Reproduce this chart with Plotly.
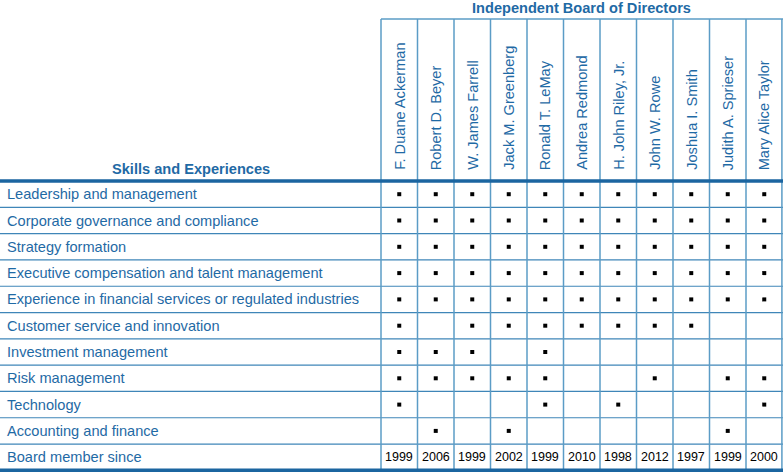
import plotly.graph_objects as go

directors = ["F. Duane Ackerman", "Robert D. Beyer", "W. James Farrell", "Jack M. Greenberg",
             "Ronald T. LeMay", "Andrea Redmond", "H. John Riley, Jr.", "John W. Rowe",
             "Joshua I. Smith", "Judith A. Sprieser", "Mary Alice Taylor"]
skills = ["Leadership and management", "Corporate governance and compliance", "Strategy formation",
          "Executive compensation and talent management",
          "Experience in financial services or regulated industries",
          "Customer service and innovation", "Investment management", "Risk management",
          "Technology", "Accounting and finance"]
# 1 = has skill; rows follow skills, columns follow directors
matrix = [
    [1, 1, 1, 1, 1, 1, 1, 1, 1, 1, 1],
    [1, 1, 1, 1, 1, 1, 1, 1, 1, 1, 1],
    [1, 1, 1, 1, 1, 1, 1, 1, 1, 1, 1],
    [1, 1, 1, 1, 1, 1, 1, 1, 1, 1, 1],
    [1, 1, 1, 1, 1, 1, 1, 1, 1, 1, 1],
    [1, 0, 1, 1, 1, 1, 1, 1, 1, 0, 0],
    [1, 1, 1, 0, 1, 0, 0, 0, 0, 0, 0],
    [1, 1, 1, 1, 1, 0, 0, 1, 0, 1, 1],
    [1, 0, 0, 0, 1, 0, 1, 0, 0, 0, 1],
    [0, 1, 0, 1, 0, 0, 0, 0, 0, 1, 0],
]
since_label = "Board member since"
since_years = ["1999", "2006", "1999", "2002", "1999", "2010", "1998", "2012", "1997", "1999", "2000"]
title_right = "Independent Board of Directors"
title_left = "Skills and Experiences"

W, H = 783, 472
COLW, ROWH = 36.5, 26.3
X0PX, Y0PX = 399.25, 194.2   # pixel centre of first column / first row
xr = [-X0PX / COLW, (W - X0PX) / COLW]
yr = [(H - Y0PX) / ROWH, -Y0PX / ROWH]

blue = "#1f6aa5"
thin = "#3f86b8"
vline = "#5b9cc6"
nrows = len(skills) + 1
ncols = len(directors)

xs, ys = [], []
for r, row in enumerate(matrix):
    for c, v in enumerate(row):
        if v:
            xs.append(c)
            ys.append(r)

fig = go.Figure()
fig.add_trace(go.Scatter(x=xs, y=ys, mode="markers",
                         marker=dict(symbol="square", size=4, color="black", line=dict(width=0)),
                         hoverinfo="skip", showlegend=False))

shapes = []
left = xr[0]
right = xr[1]
hdr_top = -0.5 - (181 - 19) / ROWH
# thin row lines
for r in range(1, nrows):
    shapes.append(dict(type="line", x0=left, x1=right, y0=r - 0.5, y1=r - 0.5,
                       line=dict(color=thin, width=1.2)))
# vertical column lines
for c in range(ncols + 1):
    xx = c - 0.5 if c < ncols else right - 0.03
    shapes.append(dict(type="line", x0=xx, x1=xx, y0=hdr_top, y1=nrows - 0.5,
                       line=dict(color=vline, width=1.5)))
# header box top
shapes.append(dict(type="line", x0=-0.5, x1=right, y0=hdr_top, y1=hdr_top,
                   line=dict(color=vline, width=1.5)))
# thick lines
for yy in [-0.5, nrows - 0.5]:
    shapes.append(dict(type="line", x0=left, x1=right, y0=yy, y1=yy,
                       line=dict(color="#1b65a0", width=3.5)))

ann = []
font = "Liberation Sans, Arial, sans-serif"
FS = 14.6
for r, s in enumerate(skills + [since_label]):
    ann.append(dict(x=left + 5 / COLW, y=r, text=s, xanchor="left", yanchor="middle",
                    showarrow=False, font=dict(family=font, size=FS, color=blue)))
for c, d in enumerate(directors):
    ann.append(dict(x=c, y=-0.5 - 9 / ROWH, text=d, textangle=-90, xanchor="center", yanchor="bottom",
                    showarrow=False, font=dict(family=font, size=FS, color=blue)))
for c, yv in enumerate(since_years):
    ann.append(dict(x=c, y=nrows - 1, text=yv, xanchor="center", yanchor="middle",
                    showarrow=False, font=dict(family=font, size=12.5, color="black")))
ann.append(dict(x=(ncols - 1) / 2, y=hdr_top - 11 / ROWH, text="<b>" + title_right + "</b>",
                xanchor="center", yanchor="middle", showarrow=False,
                font=dict(family=font, size=FS, color=blue)))
ann.append(dict(x=(left - 0.5) / 2, y=-0.5 - 12 / ROWH, text="<b>" + title_left + "</b>",
                xanchor="center", yanchor="middle", showarrow=False,
                font=dict(family=font, size=FS, color=blue)))

fig.update_layout(width=W, height=H, margin=dict(l=0, r=0, t=0, b=0),
                  paper_bgcolor="white", plot_bgcolor="white",
                  xaxis=dict(range=xr, visible=False, fixedrange=True),
                  yaxis=dict(range=yr, visible=False, fixedrange=True),
                  shapes=shapes, annotations=ann)
fig.write_html("out.html", config={"displayModeBar": False},
               post_script="document.body.style.margin='0';document.body.style.overflow='hidden';")
